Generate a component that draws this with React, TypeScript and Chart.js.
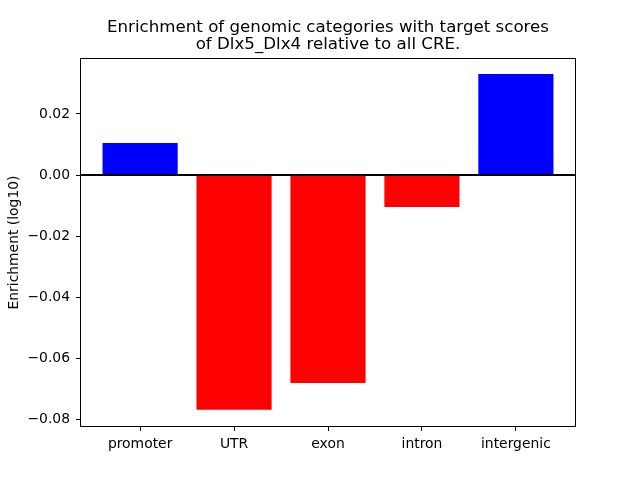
import React, { useEffect, useRef } from "react";
import { Chart, registerables } from "chart.js";

Chart.register(...registerables);

const categories = ["promoter", "UTR", "exon", "intron", "intergenic"];
const enrichment = [0.0105, -0.077, -0.0682, -0.0105, 0.0331];
const yTicks = [-0.08, -0.06, -0.04, -0.02, 0.0, 0.02];
const titleLines = [
  "Enrichment of genomic categories with target scores",
  "of Dlx5_Dlx4 relative to all CRE.",
];
const yLabel = "Enrichment (log10)";

const FONT = "'DejaVu Sans', sans-serif";

const framePlugin = {
  id: "frame",
  afterDatasetsDraw(chart: any) {
    const { ctx, chartArea, scales } = chart;
    const y0 = scales.y.getPixelForValue(0);
    ctx.save();
    ctx.strokeStyle = "#000";
    ctx.lineWidth = 2;
    ctx.beginPath();
    ctx.moveTo(chartArea.left, y0);
    ctx.lineTo(chartArea.right, y0);
    ctx.stroke();
    ctx.lineWidth = 1;
    ctx.strokeRect(
      chartArea.left + 0.5,
      chartArea.top + 0.5,
      chartArea.right - chartArea.left - 1,
      chartArea.bottom - chartArea.top - 1
    );
    // title centered over the axes
    ctx.fillStyle = "#000";
    ctx.font = `16.67px ${FONT}`;
    ctx.textAlign = "center";
    ctx.textBaseline = "alphabetic";
    const cx = (chartArea.left + chartArea.right) / 2;
    ctx.fillText(titleLines[0], cx, 32);
    ctx.fillText(titleLines[1], cx, 49);
    ctx.restore();
  },
};

export default function App() {
  const ref = useRef<HTMLCanvasElement | null>(null);
  useEffect(() => {
    if (!ref.current) return;
    const chart = new Chart(ref.current, {
      type: "bar",
      data: {
        datasets: [
          {
            data: enrichment.map((v, i) => ({ x: i, y: v })),
            backgroundColor: enrichment.map((v) => (v >= 0 ? "#0000ff" : "#ff0000")),
            borderWidth: 0,
            categoryPercentage: 1,
            barPercentage: 0.8,
          } as any,
        ],
      },
      options: {
        animation: false,
        responsive: false,
        layout: { padding: { left: 0, right: 64, top: 58, bottom: 0 } },
        plugins: {
          legend: { display: false },
          tooltip: { enabled: false },
          title: { display: false },
        },
        scales: {
          x: {
            type: "linear",
            offset: false,
            min: -0.64,
            max: 4.64,
            afterBuildTicks: (scale: any) => {
              scale.ticks = categories.map((_, i) => ({ value: i }));
            },
            afterFit: (scale: any) => {
              scale.height = 53;
            },
            ticks: {
              autoSkip: false,
              maxRotation: 0,
              color: "#000",
              padding: 5,
              font: { family: FONT, size: 13.9 },
              callback: (v: any) => categories[Math.round(Number(v))] ?? "",
            },
            grid: {
              offset: false,
              drawOnChartArea: false,
              tickLength: 4,
              tickColor: "#000",
              color: "#000",
            },
            border: { display: false },
          },
          y: {
            type: "linear",
            min: -0.08262,
            max: 0.03836,
            afterBuildTicks: (scale: any) => {
              scale.ticks = yTicks.map((v) => ({ value: v }));
            },
            afterFit: (scale: any) => {
              scale.width = 80;
            },
            ticks: {
              color: "#000",
              padding: 6,
              font: { family: FONT, size: 13.9 },
              callback: (v: any) => Number(v).toFixed(2).replace("-", "\u2212"),
            },
            grid: {
              drawOnChartArea: false,
              tickLength: 4,
              tickColor: "#000",
              color: "#000",
            },
            border: { display: false },
            title: {
              display: true,
              text: yLabel,
              color: "#000",
              font: { family: FONT, size: 13.9 },
              padding: { top: 6, bottom: 0 },
            },
          },
        },
      },
      plugins: [framePlugin],
    });
    return () => chart.destroy();
  }, []);
  return (
    <div style={{ position: "fixed", left: 0, top: 0, width: 640, height: 480, background: "#fff" }}>
      <canvas ref={ref} width={640} height={480} />
    </div>
  );
}
